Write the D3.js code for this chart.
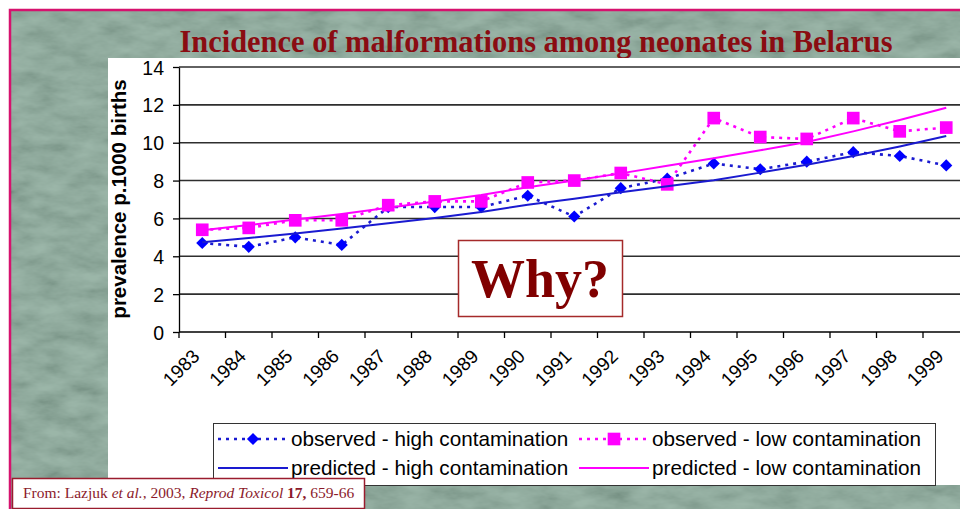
<!DOCTYPE html>
<html>
<head>
<meta charset="utf-8">
<script src="https://cdn.jsdelivr.net/npm/d3@7"></script>
<style>
  html, body { margin: 0; padding: 0; background: #fff; }
  svg { display: block; }
  .tick text { font-family: "Liberation Sans", Arial, sans-serif; fill: #000; }
</style>
</head>
<body>
<svg class="chart"></svg>
<script>
// chart values
const years = ['1983', '1984', '1985', '1986', '1987', '1988', '1989', '1990', '1991',
  '1992', '1993', '1994', '1995', '1996', '1997', '1998', '1999'];
const observedHigh = [4.7, 4.5, 5.0, 4.6, 6.6, 6.6, 6.6, 7.2, 6.1, 7.6, 8.1, 8.9, 8.6, 9.0, 9.5, 9.3, 8.8];
const observedLow = [5.4, 5.5, 5.9, 5.9, 6.7, 6.9, 6.9, 7.9, 8.0, 8.4, 7.8, 11.3, 10.3, 10.2, 11.3, 10.6, 10.8];
const predictedHigh = [4.74, 4.97, 5.21, 5.47, 5.74, 6.02, 6.34, 6.72, 7.04, 7.38, 7.7, 8.02, 8.42, 8.84, 9.3, 9.8, 10.35];
const predictedLow = [5.38, 5.65, 5.94, 6.24, 6.56, 6.89, 7.24, 7.65, 8.0, 8.38, 8.78, 9.18, 9.6, 10.04, 10.6, 11.2, 11.85];
const yTicks = [0, 2, 4, 6, 8, 10, 12, 14];

const title = 'Incidence of malformations among neonates in Belarus';
const yTitle = 'prevalence p.1000 births';
const legendLabels = ['observed - high contamination', 'observed - low contamination',
  'predicted - high contamination', 'predicted - low contamination'];

const width = 960;
const height = 509;
const blue = '#0000ff';
const blueLine = '#1a1ad0';
const pink = '#ff00ff';
const maroon = '#8a0c12';

let svg = d3.select('svg.chart')
  .attr('width', width)
  .attr('height', height);

//Background: marble-ish green texture
let defs = svg.append('defs');
let marble = defs.append('filter').attr('id', 'marble')
  .attr('x', 0).attr('y', 0).attr('width', 1).attr('height', 1);
marble.append('feTurbulence')
  .attr('type', 'fractalNoise')
  .attr('baseFrequency', '0.03 0.07')
  .attr('numOctaves', 4)
  .attr('seed', 7);
marble.append('feColorMatrix')
  .attr('type', 'matrix')
  .attr('values', '1.3 0 0 0 -0.05  1.3 0 0 0 -0.05  1.3 0 0 0 -0.05  0 0 0 0 0.22');

svg.append('rect')
  .attr('x', 10).attr('y', 10)
  .attr('width', width - 10).attr('height', height - 10)
  .attr('fill', '#7fa190');
svg.append('rect')
  .attr('x', 10).attr('y', 10)
  .attr('width', width - 10).attr('height', height - 10)
  .attr('filter', 'url(#marble)');

//Magenta frame (top and left)
svg.append('path')
  .attr('d', `M${width},10 H10 V${height}`)
  .attr('fill', 'none')
  .attr('stroke', '#d6126e')
  .attr('stroke-width', 2.5);

//Title
svg.append('text')
  .attr('x', 536)
  .attr('y', 52)
  .attr('text-anchor', 'middle')
  .attr('textLength', 713)
  .attr('lengthAdjust', 'spacingAndGlyphs')
  .style('font-family', '"Liberation Serif", "Times New Roman", serif')
  .style('font-weight', 'bold')
  .style('font-size', '32px')
  .style('fill', maroon)
  .text(title);

//White chart panel
svg.append('rect')
  .attr('x', 108).attr('y', 58)
  .attr('width', width - 108).attr('height', 427)
  .attr('fill', '#fff');

//Scales
const plotLeft = 179;
const bandStep = 46.5;
let x = d3.scaleBand()
  .domain(years)
  .range([plotLeft, plotLeft + bandStep * years.length])
  .padding(0);
let y = d3.scaleLinear()
  .domain([0, 14])
  .range([332, 67]);
const cx = d => x(d) + x.bandwidth() / 2;

//Gridlines
svg.append('g')
  .selectAll('line')
  .data(yTicks.filter(t => t > 0))
  .enter()
  .append('line')
    .attr('x1', plotLeft)
    .attr('x2', width)
    .attr('y1', d => y(d))
    .attr('y2', d => y(d))
    .attr('stroke', '#2e2e2e')
    .attr('stroke-width', 1.6);

//Y axis
let yAxis = svg.append('g')
  .attr('transform', `translate(${plotLeft},0)`)
  .call(d3.axisLeft(y).tickValues(yTicks).tickSize(6).tickPadding(9).tickSizeOuter(0));
yAxis.select('.domain').attr('stroke', '#000').attr('stroke-width', 1.3);
yAxis.selectAll('.tick line').attr('stroke', '#000').attr('stroke-width', 1.3);
yAxis.selectAll('.tick text').style('font-size', '19.5px').attr('dy', '0.36em');

svg.append('text')
  .attr('transform', `translate(126,199) rotate(-90)`)
  .attr('text-anchor', 'middle')
  .style('font-family', '"Liberation Sans", Arial, sans-serif')
  .style('font-weight', 'bold')
  .style('font-size', '20.5px')
  .text(yTitle);

//X axis: line, ticks at band edges, rotated labels
let xAxis = svg.append('g');
xAxis.append('line')
  .attr('x1', plotLeft).attr('x2', width)
  .attr('y1', y(0)).attr('y2', y(0))
  .attr('stroke', '#000').attr('stroke-width', 1.4);
xAxis.selectAll('.xtick')
  .data(years)
  .enter()
  .append('line')
    .classed('xtick', true)
    .attr('x1', d => x(d)).attr('x2', d => x(d))
    .attr('y1', y(0)).attr('y2', y(0) + 6)
    .attr('stroke', '#000').attr('stroke-width', 1.3);
xAxis.selectAll('.xlabel')
  .data(years)
  .enter()
  .append('text')
    .classed('xlabel', true)
    .attr('transform', d => `translate(${cx(d) - 11},${y(0) + 16}) rotate(-45)`)
    .attr('text-anchor', 'end')
    .attr('dy', '0.7em')
    .style('font-family', '"Liberation Sans", Arial, sans-serif')
    .style('font-size', '19px')
    .text(d => d);

//Series
let line = d3.line()
  .x((d, i) => cx(years[i]))
  .y(d => y(d));

const diamond = d3.symbol().type(d3.symbolSquare).size(74);
const square = d3.symbol().type(d3.symbolSquare).size(160);

//observed - high contamination
svg.append('path')
  .datum(observedHigh)
  .attr('d', line)
  .attr('fill', 'none')
  .attr('stroke', blueLine)
  .attr('stroke-width', 2.6)
  .attr('stroke-dasharray', '3,5');
svg.append('g')
  .selectAll('path')
  .data(observedHigh)
  .enter()
  .append('path')
    .attr('d', diamond)
    .attr('transform', (d, i) => `translate(${cx(years[i])},${y(d)}) rotate(45)`)
    .attr('fill', blue);

//observed - low contamination
svg.append('path')
  .datum(observedLow)
  .attr('d', line)
  .attr('fill', 'none')
  .attr('stroke', pink)
  .attr('stroke-width', 2.6)
  .attr('stroke-dasharray', '3,5');
svg.append('g')
  .selectAll('path')
  .data(observedLow)
  .enter()
  .append('path')
    .attr('d', square)
    .attr('transform', (d, i) => `translate(${cx(years[i])},${y(d)})`)
    .attr('fill', pink);

//predicted lines
svg.append('path')
  .datum(predictedHigh)
  .attr('d', line)
  .attr('fill', 'none')
  .attr('stroke', blueLine)
  .attr('stroke-width', 2);
svg.append('path')
  .datum(predictedLow)
  .attr('d', line)
  .attr('fill', 'none')
  .attr('stroke', pink)
  .attr('stroke-width', 2);

//"Why?" box
svg.append('rect')
  .attr('x', 458.5).attr('y', 240.5)
  .attr('width', 164).attr('height', 76)
  .attr('fill', '#fff')
  .attr('stroke', '#a52a2a')
  .attr('stroke-width', 1.5);
svg.append('text')
  .attr('x', 540)
  .attr('y', 297)
  .attr('text-anchor', 'middle')
  .style('font-family', '"Liberation Serif", "Times New Roman", serif')
  .style('font-weight', 'bold')
  .style('font-size', '54px')
  .style('fill', '#800000')
  .text('Why?');

//Legend
let legend = svg.append('g');
legend.append('rect')
  .attr('x', 213.5).attr('y', 423.5)
  .attr('width', 722).attr('height', 62)
  .attr('fill', '#fff')
  .attr('stroke', '#333')
  .attr('stroke-width', 1);

const legendItems = [
  { label: legendLabels[0], color: blueLine, dash: '3,5', marker: 'diamond', fill: blue, col: 0, row: 0 },
  { label: legendLabels[1], color: pink, dash: '3,5', marker: 'square', fill: pink, col: 1, row: 0 },
  { label: legendLabels[2], color: blueLine, dash: null, marker: null, col: 0, row: 1 },
  { label: legendLabels[3], color: pink, dash: null, marker: null, col: 1, row: 1 },
];
const colX = [218, 579];
const rowY = [439, 468];

legendItems.forEach(item => {
  let lx = colX[item.col];
  let ly = rowY[item.row];
  legend.append('line')
    .attr('x1', lx).attr('x2', lx + 70)
    .attr('y1', ly).attr('y2', ly)
    .attr('stroke', item.color)
    .attr('stroke-width', item.dash ? 2.6 : 2)
    .attr('stroke-dasharray', item.dash);
  if (item.marker) {
    legend.append('path')
      .attr('d', item.marker === 'diamond' ? diamond : square)
      .attr('transform', `translate(${lx + 35},${ly}) rotate(${item.marker === 'diamond' ? 45 : 0})`)
      .attr('fill', item.fill);
  }
  legend.append('text')
    .attr('x', lx + 73)
    .attr('y', ly)
    .attr('dy', '0.36em')
    .style('font-family', '"Liberation Sans", Arial, sans-serif')
    .style('font-size', '20.7px')
    .text(item.label);
});

//Source box
svg.append('rect')
  .attr('x', 12.5).attr('y', 478.5)
  .attr('width', 352).attr('height', 30)
  .attr('fill', '#fff')
  .attr('stroke', '#9a1c2e')
  .attr('stroke-width', 1.5);
let source = svg.append('text')
  .attr('x', 23)
  .attr('y', 498)
  .style('font-family', '"Liberation Serif", "Times New Roman", serif')
  .style('font-size', '15.5px')
  .style('fill', '#8b1a2b');
source.append('tspan').text('From: Lazjuk ');
source.append('tspan').style('font-style', 'italic').text('et al.');
source.append('tspan').text(', 2003, ');
source.append('tspan').style('font-style', 'italic').text('Reprod Toxicol');
source.append('tspan').style('font-weight', 'bold').text(' 17,');
source.append('tspan').text(' 659-66');
</script>
</body>
</html>
